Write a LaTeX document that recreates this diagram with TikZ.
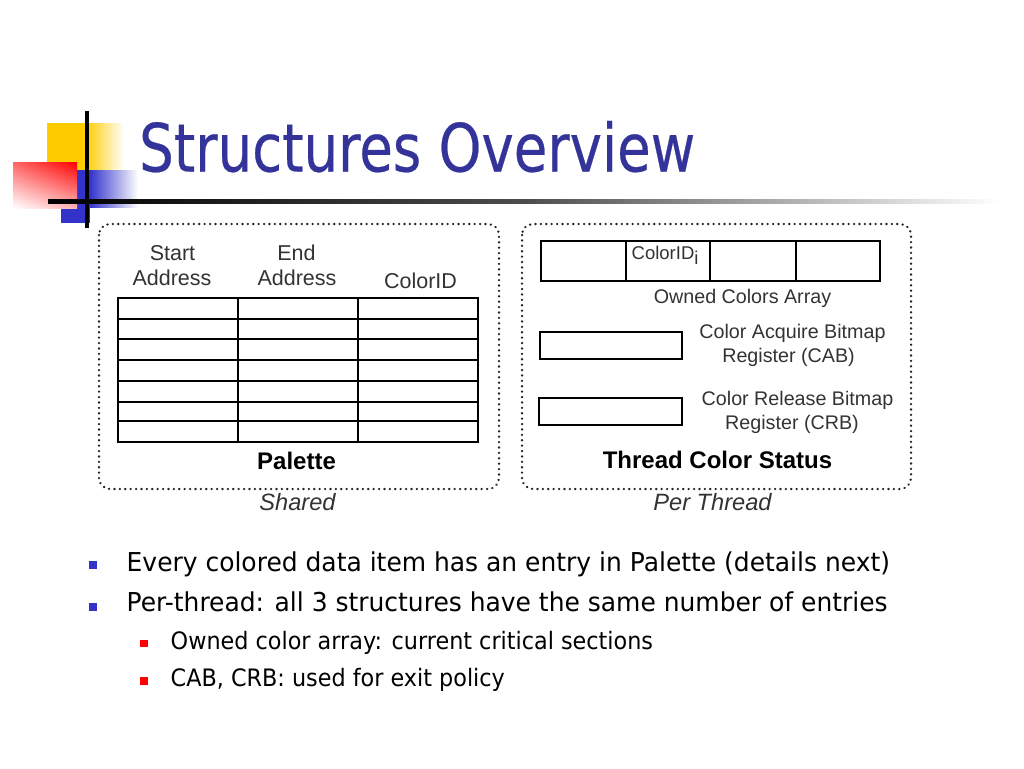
\documentclass[tikz,border=0pt]{standalone}
\usepackage{fontspec}
\setmainfont{Liberation Sans}
\newfontfamily\tahomatitle[FakeStretch=0.82,FakeBold=0.35]{DejaVu Sans}
\newfontfamily\tahoma[FakeStretch=0.96]{DejaVu Sans}
\newfontfamily\tahomasub[FakeStretch=0.93]{DejaVu Sans}
\newfontfamily\arialf{Liberation Sans}
\usetikzlibrary{calc,shadings}
\definecolor{titleblue}{HTML}{333399}
\definecolor{bulletblue}{HTML}{3333CC}
\definecolor{bulletred}{HTML}{FF0000}
\definecolor{logoyellow}{HTML}{FFCC00}
\definecolor{logoblue}{HTML}{3333CC}
\definecolor{boxgray}{HTML}{222222}
\definecolor{lblgray}{HTML}{333333}
\begin{document}
\begin{tikzpicture}[x=1pt,y=-1pt,
  title/.style={font=\tahomatitle\fontsize{66.5}{70}\selectfont, text=titleblue, inner sep=0pt, anchor=base west},
  bodytext/.style={font=\tahoma\fontsize{26}{30}\selectfont, inner sep=0pt, anchor=base west},
  subtext/.style={font=\tahomasub\fontsize{24}{28}\selectfont, inner sep=0pt, anchor=base west},
  hdr/.style={font=\arialf\fontsize{21.5}{25}\selectfont, text=lblgray, inner sep=0pt, anchor=base},
  lbl/.style={font=\arialf\fontsize{19.7}{23}\selectfont, text=lblgray, inner sep=0pt, anchor=base},
  boldlbl/.style={font=\arialf\bfseries\fontsize{24}{27}\selectfont, inner sep=0pt, anchor=base},
  itlbl/.style={font=\arialf\itshape\fontsize{23.6}{27}\selectfont, text=lblgray, inner sep=0pt, anchor=base},
  dotbox/.style={draw=boxgray, line width=2.5pt, line cap=round, dash pattern=on 0.1pt off 5.3pt, rounded corners=11pt},
  cellline/.style={draw=black, line width=2pt},
  bluebullet/.style={fill=bulletblue, draw=none, minimum size=8pt, inner sep=0pt},
  redbullet/.style={fill=bulletred, draw=none, minimum size=7.5pt, inner sep=0pt}
]
\useasboundingbox[fill=white] (0,0) rectangle (1024,768);

% ---- title logo ----
\fill[logoyellow] (47,123) rectangle (86,170);
\shade[left color=logoyellow, right color=white] (85.5,123) rectangle (124,170);
\fill[logoblue] (60.5,170) rectangle (90,223);
\shade[left color=logoblue, right color=white] (89.5,170) rectangle (138,207);
\shade[upper left=red!60, upper right=red, lower left=white, lower right=red!30] (13,162) rectangle (77,208);
\draw[black, line width=4pt] (87,111) -- (87,228);
\shade[left color=black, right color=white, middle color=black!70] (48,199.3) rectangle (1000,203.8);

\node[title] (title) at (139,171.5) {Structures Overview};

% ---- left box: palette ----
\draw[dotbox] (99,224) rectangle (499,489);
\node[hdr] (hstart1) at (172.5,260) {Start};
\node[hdr] (hstart2) at (172,285.7) {Address};
\node[hdr] (hend1) at (296.5,260) {End};
\node[hdr] (hend2) at (297,285.7) {Address};
\node[hdr] (hcid) at (420.5,288) {ColorID};
\foreach \yy in {297.5,318.5,339,359.5,380.5,401.5,421}
  \draw[cellline] (117.5,\yy) -- (477.5,\yy);
\draw[cellline] (117.5,297.5) rectangle (477.5,441.5);
\draw[cellline] (237.5,297.5) -- (237.5,441.5);
\draw[cellline] (358,297.5) -- (358,441.5);
\node[boldlbl] (palette) at (296.5,469.3) {Palette};
\node[itlbl] (shared) at (297.5,510) {Shared};

% ---- right box: thread color status ----
\draw[dotbox] (522,224) rectangle (911,489);
\draw[cellline] (541,241) rectangle (880,280.5);
\draw[cellline] (625.5,241) -- (625.5,280.5);
\draw[cellline] (710,241) -- (710,280.5);
\draw[cellline] (796,241) -- (796,280.5);
\node[lbl, anchor=base west, font=\arialf\fontsize{18.5}{22}\selectfont] (cidi) at (631.5,259) {ColorID\raisebox{-5.5pt}{i}};
\node[lbl] (owned) at (742.5,303) {Owned Colors Array};
\draw[cellline] (540,331.5) rectangle (682,359);
\node[lbl] (cab1) at (792.5,338.5) {Color Acquire Bitmap};
\node[lbl] (cab2) at (788.5,362.5) {Register (CAB)};
\draw[cellline] (539,398) rectangle (682,425);
\node[lbl] (crb1) at (797.5,405) {Color Release Bitmap};
\node[lbl] (crb2) at (792,429) {Register (CRB)};
\node[boldlbl] (tcs) at (717.5,468.5) {Thread Color Status};
\node[itlbl] (perthread) at (712.5,510) {Per Thread};

% ---- bullets ----
\node[bluebullet] (b1) at (93,565) {};
\node[bodytext] (t1) at (126.5,571) {Every colored data item has an entry in Palette (details next)};
\node[bluebullet] (b2) at (93,607) {};
\node[bodytext] (t2) at (126.5,611.5) {Per-thread: all 3 structures have the same number of entries};
\node[redbullet] (b3) at (144,643.5) {};
\node[subtext] (t3) at (170.5,649) {Owned color array: current critical sections};
\node[redbullet] (b4) at (144,681) {};
\node[subtext] (t4) at (170.5,686.5) {CAB, CRB: used for exit policy};
\end{tikzpicture}
\end{document}
